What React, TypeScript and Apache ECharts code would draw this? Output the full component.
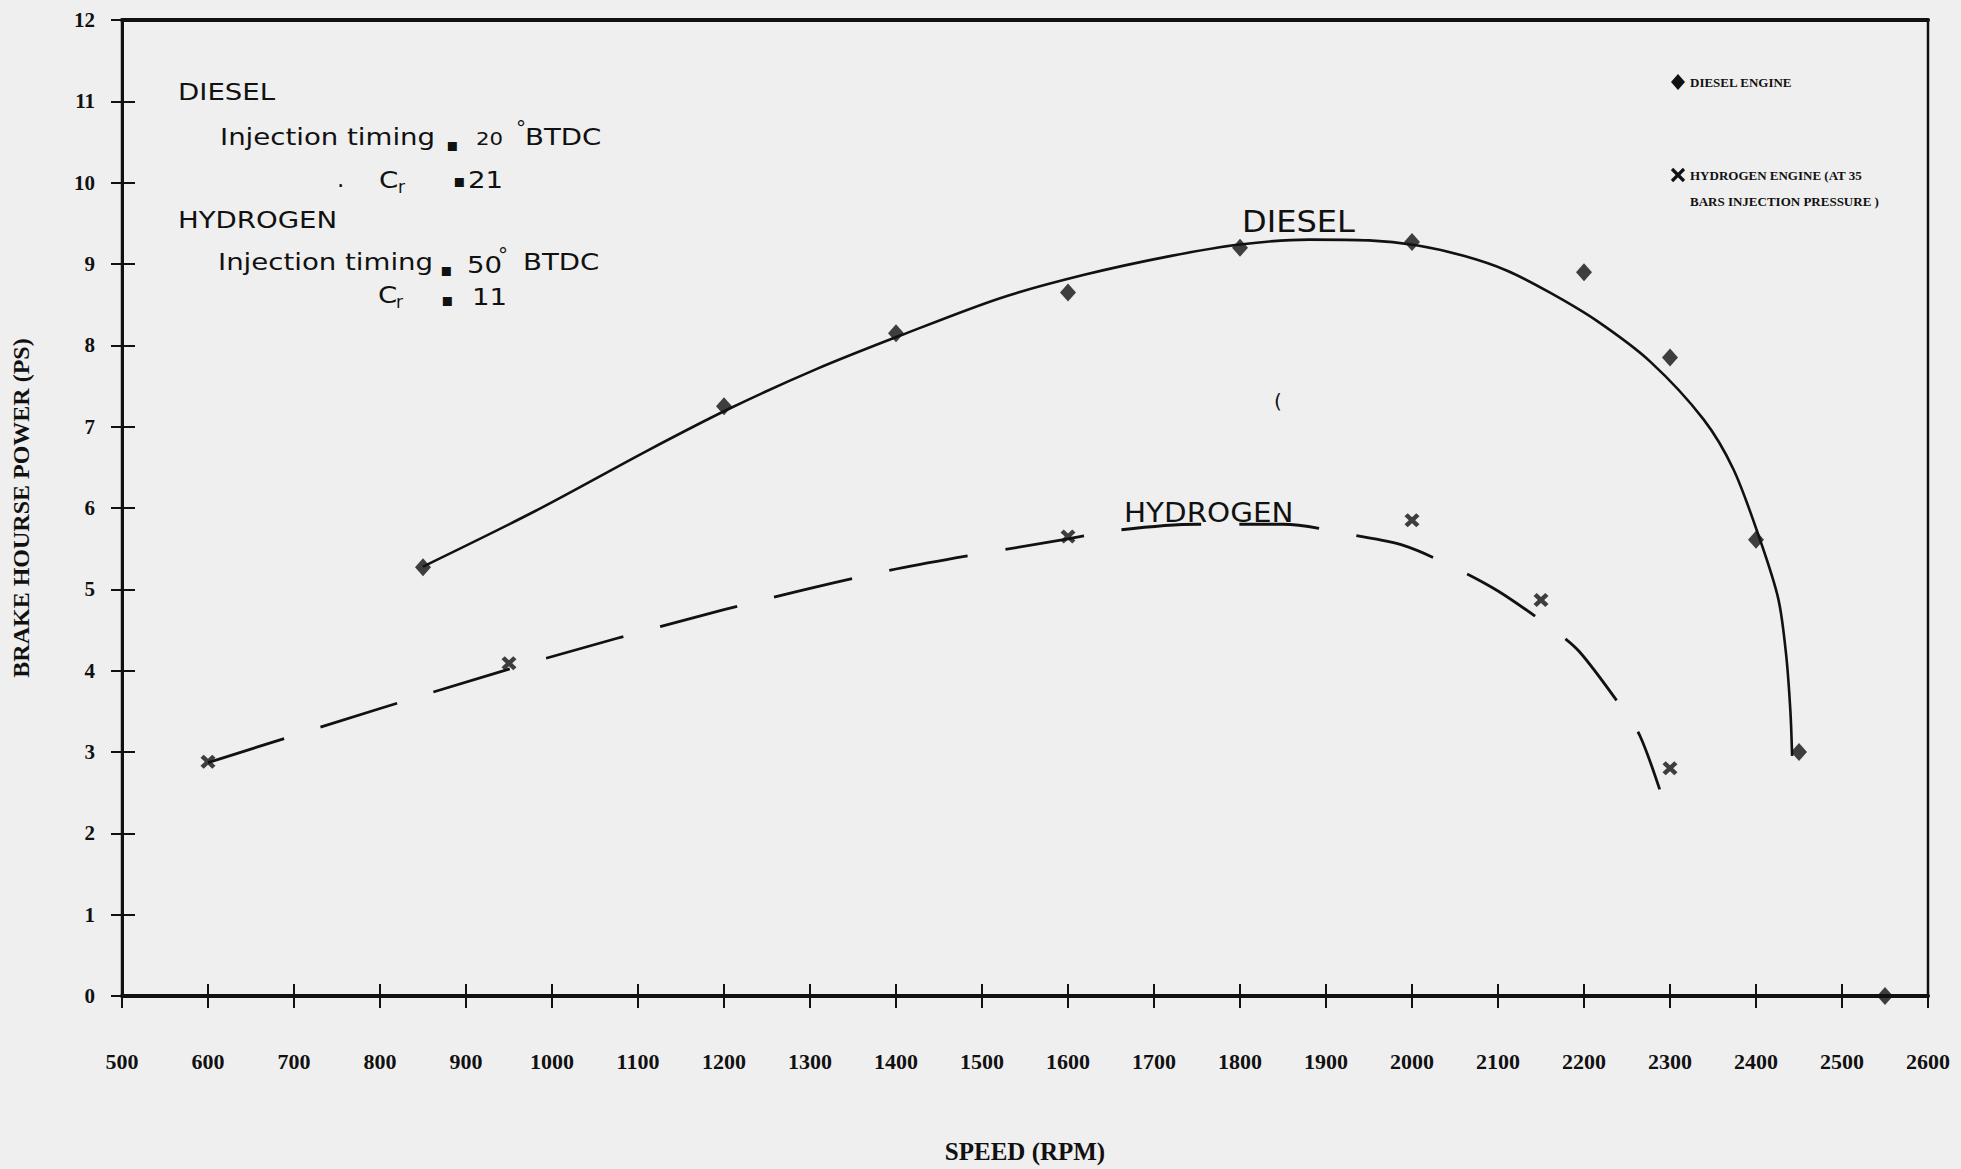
import React, { useEffect, useRef } from "react";
import * as echarts from "echarts";

// Measured points
const dieselSpeed = [850, 1200, 1400, 1600, 1800, 2000, 2200, 2300, 2400, 2450, 2550];
const dieselBhp = [5.27, 7.25, 8.15, 8.65, 9.2, 9.27, 8.9, 7.85, 5.61, 3.0, 0];
const hydrogenSpeed = [600, 950, 1600, 2000, 2150, 2300];
const hydrogenBhp = [2.88, 4.09, 5.65, 5.85, 4.87, 2.8];

// Hand-drawn fitted curves
const dieselCurveSpeed = [850, 980, 1110, 1206, 1308, 1405, 1521, 1620, 1720, 1800, 1880, 1950, 2005, 2060, 2110, 2160, 2215, 2277, 2339, 2374, 2405, 2426, 2435, 2440, 2442];
const dieselCurveBhp = [5.28, 5.96, 6.7, 7.22, 7.71, 8.12, 8.58, 8.87, 9.1, 9.24, 9.3, 9.29, 9.23, 9.1, 8.92, 8.65, 8.3, 7.8, 7.09, 6.47, 5.6, 4.88, 4.2, 3.5, 2.95];
const hydrogenCurveSpeed = [600, 950, 1200, 1400, 1600, 1660, 1750, 1850, 1935, 1990, 2045, 2100, 2165, 2195, 2245, 2265, 2288];
const hydrogenCurveBhp = [2.87, 4.02, 4.75, 5.25, 5.62, 5.73, 5.8, 5.8, 5.66, 5.54, 5.29, 4.98, 4.5, 4.23, 3.53, 3.2, 2.54];

const xMin = 500;
const xMax = 2600;
const xStep = 100;
const yMin = 0;
const yMax = 12;
const yStep = 1;

const xTitle = "SPEED (RPM)";
const yTitle = "BRAKE HOURSE POWER (PS)";
const legendDiesel = "DIESEL ENGINE";
const legendHydrogen1 = "HYDROGEN ENGINE (AT 35";
const legendHydrogen2 = "BARS INJECTION PRESSURE )";

const zip = (xs: number[], ys: number[]) => xs.map((x, i) => [x, ys[i]]);

const INK = "#111111";
const SANS = "'DejaVu Sans', 'Liberation Sans', sans-serif";
const SERIF = "'Liberation Serif', 'DejaVu Serif', serif";
const X_PATH = "path://M0,3L3,0L7,4L11,0L14,3L10,7L14,11L11,14L7,10L3,14L0,11L4,7Z";

function txt(
  text: string,
  x: number,
  y: number,
  size: number,
  scaleX = 1,
  family = SANS,
  weight = "normal",
  align = "left"
) {
  return {
    type: "text",
    x,
    y,
    scaleX,
    silent: true,
    style: {
      text,
      fill: INK,
      font: `${weight} ${size}px ${family}`,
      textAlign: align,
      textVerticalAlign: "middle",
    },
  };
}

export default function App() {
  const ref = useRef<HTMLDivElement>(null);

  useEffect(() => {
    if (!ref.current) return;
    const chart = echarts.init(ref.current, null, { renderer: "svg" });

    const xBase = { type: "value", min: xMin, max: xMax, interval: xStep };
    const yBase = { type: "value", min: yMin, max: yMax, interval: yStep };
    const S = 1.2;

    const option: any = {
      animation: false,
      backgroundColor: "#efefef",
      grid: {
        left: 122,
        right: 33,
        top: 20,
        bottom: 170,
        show: true,
        borderColor: INK,
        borderWidth: 2.5,
        backgroundColor: "transparent",
      },
      xAxis: [
        {
          ...xBase,
          position: "bottom",
          name: xTitle,
          nameLocation: "middle",
          nameGap: 143,
          nameTextStyle: { fontFamily: SERIF, fontWeight: "bold", fontSize: 25, color: INK },
          axisLine: { show: true, onZero: false, lineStyle: { color: INK, width: 4 } },
          axisTick: { show: true, inside: false, length: 12, lineStyle: { color: INK, width: 2 } },
          axisLabel: {
            show: true,
            margin: 54,
            fontFamily: SERIF,
            fontWeight: "bold",
            fontSize: 22,
            color: INK,
            formatter: (v: number) => String(v),
          },
          splitLine: { show: false },
        },
        {
          ...xBase,
          position: "bottom",
          axisLine: { show: false },
          axisTick: { show: true, inside: true, length: 12, lineStyle: { color: INK, width: 2 } },
          axisLabel: { show: false },
          splitLine: { show: false },
        },
        {
          ...xBase,
          position: "top",
          axisLine: { show: true, onZero: false, lineStyle: { color: INK, width: 4 } },
          axisTick: { show: false },
          axisLabel: { show: false },
          splitLine: { show: false },
        },
      ],
      yAxis: [
        {
          ...yBase,
          position: "left",
          name: yTitle,
          nameLocation: "middle",
          nameGap: 89,
          nameTextStyle: { fontFamily: SERIF, fontWeight: "bold", fontSize: 24, color: INK },
          axisLine: { show: true, onZero: false, lineStyle: { color: INK, width: 3 } },
          axisTick: { show: true, inside: false, length: 11, lineStyle: { color: INK, width: 2 } },
          axisLabel: { show: true, margin: 27, fontFamily: SERIF, fontWeight: "bold", fontSize: 21, color: INK },
          splitLine: { show: false },
        },
        {
          ...yBase,
          position: "left",
          axisLine: { show: false },
          axisTick: { show: true, inside: true, length: 13, lineStyle: { color: INK, width: 2 } },
          axisLabel: { show: false },
          splitLine: { show: false },
        },
      ],
      series: [
        {
          name: "Diesel curve",
          type: "line",
          xAxisIndex: 0,
          yAxisIndex: 0,
          data: zip(dieselCurveSpeed, dieselCurveBhp),
          smooth: 0.3,
          showSymbol: false,
          symbol: "none",
          lineStyle: { color: INK, width: 2.6, type: "solid" },
          silent: true,
          z: 2,
        },
        {
          name: "Hydrogen curve",
          type: "line",
          xAxisIndex: 0,
          yAxisIndex: 0,
          data: zip(hydrogenCurveSpeed, hydrogenCurveBhp),
          smooth: 0.3,
          showSymbol: false,
          symbol: "none",
          lineStyle: { color: INK, width: 2.8, type: [80, 38] },
          silent: true,
          z: 2,
        },
        {
          name: "DIESEL ENGINE",
          type: "scatter",
          xAxisIndex: 0,
          yAxisIndex: 0,
          data: zip(dieselSpeed, dieselBhp),
          symbol: "diamond",
          symbolSize: [16, 18],
          itemStyle: { color: INK },
          clip: false,
          z: 3,
        },
        {
          name: "HYDROGEN ENGINE",
          type: "scatter",
          xAxisIndex: 0,
          yAxisIndex: 0,
          data: zip(hydrogenSpeed, hydrogenBhp),
          symbol: X_PATH,
          symbolSize: [15, 14],
          itemStyle: { color: INK },
          clip: false,
          z: 3,
        },
      ],
      graphic: [
        // Top-left annotation block
        txt("DIESEL", 178, 92, 23, S),
        txt("Injection timing", 220, 137, 23, S),
        txt("▪", 446, 144, 18),
        txt("20", 476, 139, 17, 1.25),
        txt("°", 516, 128, 20),
        txt("BTDC", 525, 137, 23, S),
        txt(".", 337, 179, 23),
        txt("C", 379, 180, 23, S),
        txt("r", 398, 187, 17),
        txt("▪", 453, 180, 18),
        txt("21", 468, 180, 23, S),
        txt("HYDROGEN", 178, 220, 23, S),
        txt("Injection timing", 218, 262, 23, S),
        txt("▪", 440, 269, 18),
        txt("50", 467, 265, 23, S),
        txt("°", 498, 255, 20),
        txt("BTDC", 523, 262, 23, S),
        txt("C", 378, 295, 23, S),
        txt("r", 396, 302, 17),
        txt("▪", 441, 299, 18),
        txt("11", 472, 297, 23, S),
        // Curve labels
        txt("DIESEL", 1242, 221, 30, 1.07),
        txt("HYDROGEN", 1124, 513, 26, 1.13),
        txt("(", 1274, 401, 20),
        // Legend
        {
          type: "polygon",
          silent: true,
          shape: { points: [[1678, 74], [1685, 82], [1678, 90], [1671, 82]] },
          style: { fill: INK },
        },
        txt(legendDiesel, 1690, 82, 13, 1, SERIF, "bold"),
        {
          type: "line",
          silent: true,
          shape: { x1: 1672, y1: 169, x2: 1684, y2: 181 },
          style: { stroke: INK, lineWidth: 3.2 },
        },
        {
          type: "line",
          silent: true,
          shape: { x1: 1684, y1: 169, x2: 1672, y2: 181 },
          style: { stroke: INK, lineWidth: 3.2 },
        },
        txt(legendHydrogen1, 1690, 175, 13, 1, SERIF, "bold"),
        txt(legendHydrogen2, 1690, 201, 13, 1, SERIF, "bold"),
      ],
    };

    chart.setOption(option);
    return () => {
      chart.dispose();
    };
  }, []);

  return (
    <div
      ref={ref}
      style={{ position: "fixed", left: 0, top: 0, width: "1961px", height: "1169px" }}
    />
  );
}
